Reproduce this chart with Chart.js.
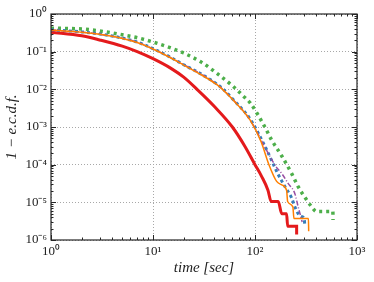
<!DOCTYPE html>
<html>
<head>
<meta charset="utf-8">
<script src="https://cdn.jsdelivr.net/npm/chart.js@4"></script>
<style>
  html, body { margin: 0; padding: 0; background: #fff; }
</style>
</head>
<body>
<canvas id="ecdf" width="374" height="282"></canvas>
<script>
// time in seconds and 1 - e.c.d.f. for each run
var red_t = [1, 2, 3, 5, 7, 10, 15, 20, 27, 40, 60, 80, 100, 116, 134, 144, 169, 183, 204, 209, 256, 256];
var red_p = [0.33, 0.265, 0.205, 0.14, 0.1, 0.065, 0.036, 0.021, 0.01, 0.0035, 0.001, 3e-4, 1e-4, 4.9e-5, 2.1e-5, 1.05e-5, 1.05e-5, 5e-6, 5e-6, 2.3e-6, 2.3e-6, 1.4e-6];

var orange_t = [1, 2, 3, 5, 7, 10, 15, 20, 30, 42, 48, 61, 90, 115, 137, 163, 183, 204, 209, 235, 241, 334, 336];
var orange_p = [0.375, 0.33, 0.29, 0.225, 0.175, 0.118, 0.068, 0.044, 0.024, 0.0135, 0.01, 0.0052, 0.0015, 4e-4, 1e-4, 3.6e-5, 2.9e-5, 2.1e-5, 1.05e-5, 7.6e-6, 3.7e-6, 3.7e-6, 1.7e-6];

var blue_t = [1, 2, 3, 5, 7, 10, 15, 20, 30, 42, 48, 61, 90, 130, 167, 197, 229, 246, 265, 287, 305, 307];
var blue_p = [0.38, 0.335, 0.295, 0.23, 0.18, 0.12, 0.07, 0.045, 0.025, 0.014, 0.0105, 0.0054, 0.0016, 2.5e-4, 5.8e-5, 2.6e-5, 1.3e-5, 7.6e-6, 5e-6, 4.2e-6, 3.4e-6, 2.5e-6];

var purple_t = [1, 2, 3, 5, 7, 10, 15, 20, 30, 42, 48, 61, 90, 130, 160, 183, 211, 246, 265, 287, 290];
var purple_p = [0.375, 0.33, 0.29, 0.228, 0.178, 0.119, 0.069, 0.045, 0.025, 0.0138, 0.0102, 0.0053, 0.0015, 2.4e-4, 9e-5, 5.8e-5, 3.2e-5, 1.7e-5, 7.6e-6, 3.4e-6, 3e-6];

var green_t = [1, 2, 3, 5, 7, 10, 15, 20, 30, 42, 61, 76, 90, 125, 145, 183, 229, 265, 318, 360, 400, 580, 582];
var green_p = [0.42, 0.4, 0.355, 0.28, 0.235, 0.18, 0.125, 0.092, 0.052, 0.027, 0.012, 0.0068, 0.0043, 0.001, 4.6e-4, 1.7e-4, 5.8e-5, 2.6e-5, 1.2e-5, 7.6e-6, 5.7e-6, 5.7e-6, 3.4e-6];

var x_decades = [0, 1, 2, 3];
var y_decades = [-6, -5, -4, -3, -2, -1, 0];

var SUP = {'-': '\u207B', '0': '\u2070', '1': '\u00B9', '2': '\u00B2', '3': '\u00B3',
  '4': '\u2074', '5': '\u2075', '6': '\u2076', '7': '\u2077', '8': '\u2078', '9': '\u2079'};

function pts(t, p) {
  return t.map(function (v, i) { return {x: v, y: p[i]}; });
}

function isDecade(v) {
  var e = Math.log10(v);
  return Math.abs(e - Math.round(e)) < 1e-9;
}

function powLabel(v) {
  if (!isDecade(v)) return '';
  var e = String(Math.round(Math.log10(v)));
  return '10' + e.split('').map(function (c) { return SUP[c]; }).join('');
}

// 1..9 x every decade, like matplotlib's minor ticks
function logTicks(decades) {
  var out = [];
  for (var i = 0; i < decades.length; i++) {
    var base = Math.pow(10, decades[i]);
    var last = i === decades.length - 1;
    for (var k = 1; k <= (last ? 1 : 9); k++) out.push({value: k * base});
  }
  return out;
}

// frame all round with ticks pointing inwards
var frameTicks = {
  id: 'frameTicks',
  afterDraw: function (chart) {
    var ctx = chart.ctx, a = chart.chartArea;
    var xs = chart.scales.x, ys = chart.scales.y;
    ctx.save();
    ctx.strokeStyle = '#262626';
    ctx.lineWidth = 1;
    ctx.beginPath();
    xs.ticks.forEach(function (t) {
      var px = Math.round(xs.getPixelForValue(t.value)) + 0.5;
      var len = isDecade(t.value) ? 5 : 2.5;
      ctx.moveTo(px, a.bottom); ctx.lineTo(px, a.bottom - len);
      ctx.moveTo(px, a.top); ctx.lineTo(px, a.top + len);
    });
    ys.ticks.forEach(function (t) {
      var py = Math.round(ys.getPixelForValue(t.value)) + 0.5;
      var len = isDecade(t.value) ? 5 : 2.5;
      ctx.moveTo(a.left, py); ctx.lineTo(a.left + len, py);
      ctx.moveTo(a.right, py); ctx.lineTo(a.right - len, py);
    });
    ctx.stroke();
    ctx.lineWidth = 1.2;
    ctx.strokeRect(a.left, a.top, a.right - a.left, a.bottom - a.top);
    ctx.restore();
  }
};

var serif = 'Liberation Serif';

new Chart(document.getElementById('ecdf'), {
  type: 'line',
  data: {
    datasets: [
      {
        label: 'orange',
        data: pts(orange_t, orange_p),
        borderColor: '#FF7F00',
        borderWidth: 1.5
      },
      {
        label: 'purple',
        data: pts(purple_t, purple_p),
        borderColor: '#984EA3',
        borderWidth: 1.5,
        borderDash: [5, 2, 1, 2]
      },
      {
        label: 'blue',
        data: pts(blue_t, blue_p),
        borderColor: '#377EB8',
        borderWidth: 3,
        borderDash: [3, 3]
      },
      {
        label: 'red',
        data: pts(red_t, red_p),
        borderColor: '#E41A1C',
        borderWidth: 3
      },
      {
        label: 'green',
        data: pts(green_t, green_p),
        borderColor: '#4DAF4A',
        borderWidth: 3.5,
        borderDash: [3, 4]
      }
    ]
  },
  options: {
    responsive: false,
    animation: false,
    elements: {
      point: { radius: 0 },
      line: { cubicInterpolationMode: 'monotone', fill: false, borderCapStyle: 'butt' }
    },
    layout: { padding: { top: 14, right: 17, left: 0, bottom: 0 } },
    plugins: {
      legend: { display: false },
      tooltip: { enabled: false }
    },
    scales: {
      x: {
        type: 'logarithmic',
        min: 1,
        max: 1000,
        afterBuildTicks: function (scale) { scale.ticks = logTicks(x_decades); },
        afterFit: function (scale) { scale.height = 42; },
        grid: {
          drawTicks: false,
          lineWidth: 1,
          color: function (c) { return c.tick && isDecade(c.tick.value) ? '#a8a8a8' : 'rgba(0,0,0,0)'; }
        },
        border: { display: false, dash: [1, 2] },
        ticks: {
          autoSkip: false,
          maxRotation: 0,
          padding: 4,
          color: '#222',
          font: { family: serif, size: 13 },
          callback: function (v) { return powLabel(v); }
        },
        title: {
          display: true,
          text: 'time [sec]',
          color: '#222',
          padding: { top: 0, bottom: 5 },
          font: { family: serif, size: 15, style: 'italic' }
        }
      },
      y: {
        type: 'logarithmic',
        min: 1e-6,
        max: 1,
        afterBuildTicks: function (scale) { scale.ticks = logTicks(y_decades); },
        afterFit: function (scale) { scale.width = 51; },
        grid: {
          drawTicks: false,
          lineWidth: 1,
          color: function (c) { return c.tick && isDecade(c.tick.value) ? '#a8a8a8' : 'rgba(0,0,0,0)'; }
        },
        border: { display: false, dash: [1, 2] },
        ticks: {
          autoSkip: false,
          padding: 4,
          color: '#222',
          font: { family: serif, size: 13 },
          callback: function (v) { return powLabel(v); }
        },
        title: {
          display: true,
          text: '1 \u2212 e.c.d.f.',
          color: '#222',
          padding: { top: 3, bottom: 0 },
          font: { family: serif, size: 15, style: 'italic' }
        }
      }
    }
  },
  plugins: [frameTicks]
});
</script>
</body>
</html>
